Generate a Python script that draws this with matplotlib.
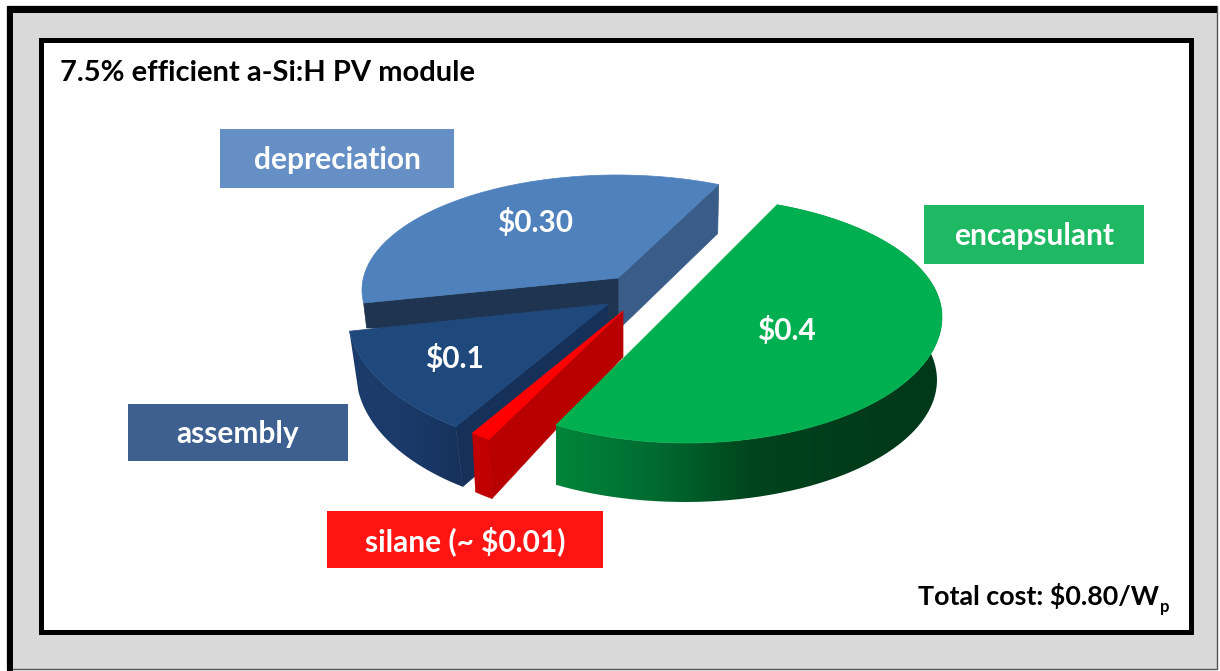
import numpy as np
import matplotlib
matplotlib.use("Agg")
import matplotlib.pyplot as plt
from matplotlib.colors import LinearSegmentedColormap
from matplotlib.patches import Polygon, Rectangle

plt.rcParams["font.family"] = ["Lato", "DejaVu Sans"]

categories = ["encapsulant", "silane (~ $0.01)", "assembly", "depreciation"]
costs = [0.4, 0.01, 0.1, 0.30]
value_labels = ["$0.4", None, "$0.1", "$0.30"]
title = "7.5% efficient a-Si:H PV module"
total_label = "Total cost: $0.80/W"

total = sum(costs)
W, H = 1220, 671

fig = plt.figure(figsize=(W / 100, H / 100), dpi=100)
ax = fig.add_axes([0, 0, 1, 1])
ax.axis("off")


def arc(cx, cy, a, b, start, value, stretch=1.0, b_back=None):
    # perspective pie: the sweep comes from the value, stretch is the foreshortening
    sweep = value / total * 360 * stretch
    t = np.radians(np.linspace(start, start - sweep, 80))
    s = np.sin(t)
    heights = np.where(s > 0, b if b_back is None else b_back, b)
    return np.column_stack([cx + a * np.cos(t), cy - heights * s])


def poly(points, color, z):
    ax.add_patch(Polygon(points, closed=True, facecolor=color, edgecolor=color, lw=0.5, zorder=z))


def gradient_poly(points, colors, z):
    patch = Polygon(points, closed=True, facecolor="none", edgecolor="none", zorder=z)
    ax.add_patch(patch)
    x0, x1 = points[:, 0].min(), points[:, 0].max()
    y0, y1 = points[:, 1].min(), points[:, 1].max()
    cmap = LinearSegmentedColormap.from_list("side", colors)
    im = ax.imshow(
        np.linspace(0, 1, 256).reshape(1, -1),
        cmap=cmap,
        extent=(x0, x1, y1, y0),
        aspect="auto",
        zorder=z,
    )
    im.set_clip_path(patch)


# frame
ax.add_patch(Rectangle((7, 6), 1210, 663, facecolor="#d9d9d9", edgecolor="#555555", lw=1, zorder=1))
ax.add_patch(Rectangle((7, 6), 1210, 7, facecolor="black", edgecolor="none", zorder=2))
ax.add_patch(Rectangle((7, 6), 6, 665, facecolor="black", edgecolor="none", zorder=2))
ax.add_patch(Rectangle((40.5, 39.5), 1150, 592.5, facecolor="white", edgecolor="black", lw=3.6, zorder=3))

# depreciation
top = arc(617, 290, 255, 115, 186.5, costs[3], 0.90)
apex = np.array([618, 278])
poly([apex, top[-1], top[-1] + [-1, 49], apex + [0, 52]], "#3a5c88", 4)
poly([top[0], apex, apex + [0, 52], top[0] + [3, 25]], "#1f3450", 4)
poly(np.vstack([apex, top]), "#4f81bd", 5)

# assembly
top = arc(602, 312, 255, 140, 235, costs[2], 1.06)
low = arc(606, 372, 250, 140, 235, costs[2], 1.06)
apex = np.array([608, 304])
gradient_poly(np.vstack([top, low[::-1]]), ["#1c3c6c", "#1b3a69", "#16325c"], 6)
poly([apex, top[0], low[0], apex + [0, 58]], "#15315a", 6)
poly(np.vstack([apex, top]), "#1f497d", 7)

# silane
top = arc(623, 311, 255, 151, 238.3, costs[1])
low = arc(626, 370, 255, 151, 238.3, costs[1])
apex = np.array([623, 311])
poly([apex, top[0], low[0], apex + [0, 46]], "#b80000", 8)
poly(np.vstack([top, low[::-1]]), "#c00000", 8)
poly(np.vstack([apex, top]), "#ff0000", 9)

# encapsulant
top = arc(687, 317, 255, 126, 69.3, costs[0], 1.07, b_back=120)
low = arc(685, 380, 252, 122, 69.3, costs[0], 1.07)
apex = np.array([666, 316])
gradient_poly(
    np.vstack([top, low[::-1]]),
    ["#00853c", "#006c30", "#00451e", "#003c1a", "#00381a"],
    10,
)
poly(np.vstack([apex, top]), "#00b050", 11)

# label boxes
boxes = [
    (924, 205, 220, 59, "#1fb964"),
    (327, 511, 276, 57, "#ff1414"),
    (128, 404, 220, 57, "#3d6090"),
    (220, 129, 234, 59, "#6690c5"),
]
for name, (x, y, w, h, color) in zip(categories, boxes):
    ax.add_patch(Rectangle((x, y), w, h, facecolor=color, edgecolor="none", zorder=12))
    ax.text(x + w / 2, y + h / 2 + 2, name, color="white", fontsize=21.5, fontweight="bold",
            ha="center", va="center", zorder=13)

value_pos = [(786, 330), None, (454, 358), (535, 223)]
for label, pos in zip(value_labels, value_pos):
    if label:
        ax.text(pos[0], pos[1], label, color="white", fontsize=21.5, fontweight="bold",
                ha="center", va="center", zorder=13)

ax.text(60, 81, title, color="black", fontsize=21, fontweight="bold", ha="left",
        va="baseline", zorder=13)
ax.text(918, 605, total_label, color="black", fontsize=19.4, fontweight="bold", ha="left",
        va="baseline", zorder=13)
ax.text(1160, 612, "p", color="black", fontsize=12, fontweight="bold", ha="left",
        va="baseline", zorder=13)

ax.set_xlim(0, W)
ax.set_ylim(H, 0)
fig.savefig("out.png", dpi=100)
